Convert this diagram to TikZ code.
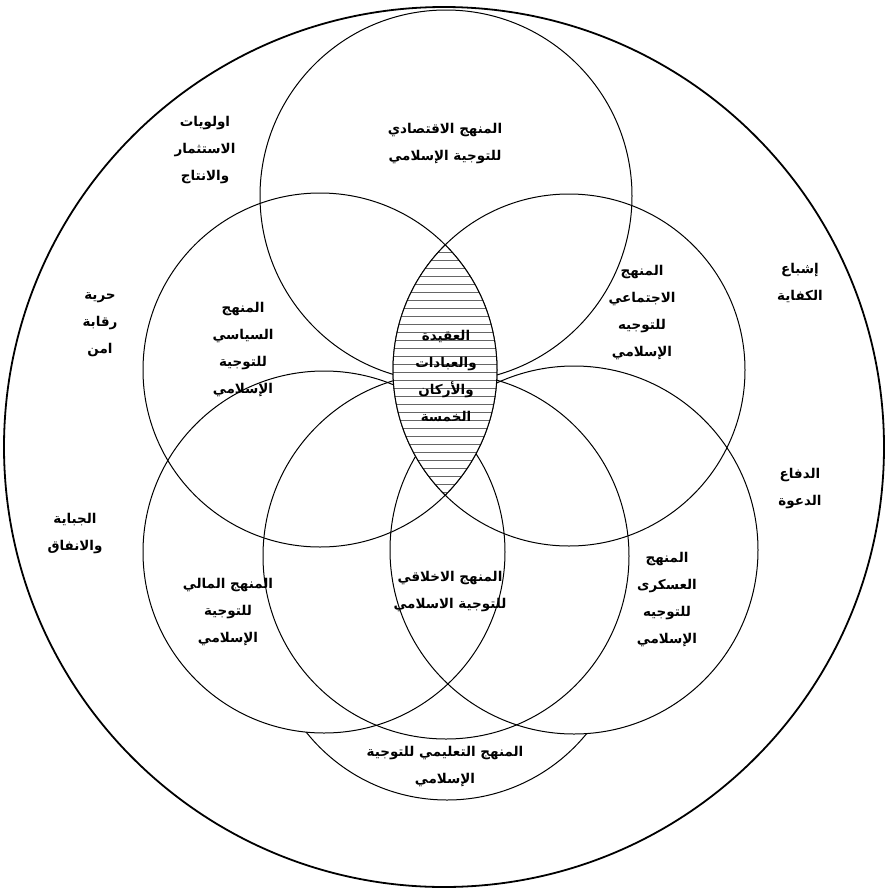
\documentclass[tikz,border=0pt]{standalone}
\usepackage{fontspec}
\newfontfamily\arabicfont[Script=Arabic]{DejaVu Sans}
\TeXXeTstate=1
\newcommand{\ar}[1]{\beginR #1\endR}

\begin{document}
\begin{tikzpicture}[x=1pt,y=-1pt,
    ring/.style={line width=1pt},
    hatch/.style={gray!80!black, line width=0.5pt},
    lbl/.style={font=\arabicfont\fontsize{13.5}{27}\selectfont\bfseries, align=center, inner sep=1pt}]
    \useasboundingbox (0,0) rectangle (885,892);

    % Educational circle first, its upper part is blanked by the others
    \draw[ring] (447,620) circle (180pt);
    \fill[white] (324,552) circle (181pt);
    \fill[white] (446,556) circle (183pt);
    \fill[white] (574,550) circle (184pt);

    % The six circles
    \draw[ring] (446,196) circle (186pt);
    \draw[ring] (320,370) circle (177pt);
    \draw[ring] (569,370) circle (176pt);
    \draw[ring] (324,552) circle (181pt);
    \draw[ring] (446,556) circle (183pt);
    \draw[ring] (574,550) circle (184pt);

    % Hatched core, covers what lies under it
    \begin{scope}
        \clip (320,370) circle (177pt);
        \clip (569,370) circle (176pt);
        \fill[white] (370,230) rectangle (520,530);
        \foreach \y in {244,252,...,500}
            \draw[hatch] (370,\y) -- (520,\y);
    \end{scope}
    \begin{scope}
        \clip (320,370) circle (177pt);
        \draw[ring] (569,370) circle (176pt);
    \end{scope}
    \begin{scope}
        \clip (569,370) circle (176pt);
        \draw[ring] (320,370) circle (177pt);
    \end{scope}

    % Outer ring
    \draw[line width=1.8pt] (444,447) circle (440pt);

    % Labels inside
    \node[lbl] (econ) at (445,144) {\ar{المنهج الاقتصادي}\\\ar{للتوجية الإسلامي}};
    \node[lbl] (poli) at (243,350) {\ar{المنهج}\\\ar{السياسي}\\\ar{للتوجية}\\\ar{الإسلامي}};
    \node[lbl] (soci) at (642,313) {\ar{المنهج}\\\ar{الاجتماعي}\\\ar{للتوجيه}\\\ar{الإسلامي}};
    \node[lbl] (core) at (446,376) {\ar{العقيدة}\\\ar{والعبادات}\\\ar{والأركان}\\\ar{الخمسة}};
    \node[lbl] (fina) at (228,612) {\ar{المنهج المالي}\\\ar{للتوجية}\\\ar{الإسلامي}};
    \node[lbl] (ethi) at (450,592) {\ar{المنهج الاخلاقي}\\\ar{للتوجية الاسلامي}};
    \node[lbl] (mili) at (667,600) {\ar{المنهج}\\\ar{العسكرى}\\\ar{للتوجيه}\\\ar{الإسلامي}};
    \node[lbl] (educ) at (445,767) {\ar{المنهج التعليمي للتوجية}\\\ar{الإسلامي}};

    % Labels in the outer ring
    \node[lbl] (prio) at (205,150) {\ar{اولويات}\\\ar{الاستثمار}\\\ar{والانتاج}};
    \node[lbl] (satis) at (800,283) {\ar{إشباع}\\\ar{الكفاية}};
    \node[lbl] (free) at (100,325) {\ar{حرية}\\\ar{رقابة}\\\ar{امن}};
    \node[lbl] (defe) at (800,489) {\ar{الدفاع}\\\ar{الدعوة}};
    \node[lbl] (levy) at (75,534) {\ar{الجباية}\\\ar{والانفاق}};
\end{tikzpicture}
\end{document}
